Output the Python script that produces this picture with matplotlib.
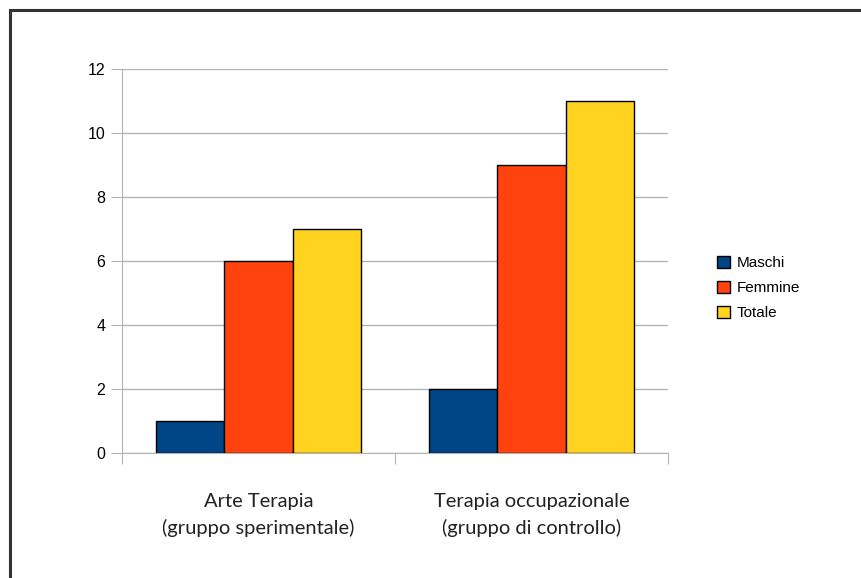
import numpy as np
import matplotlib
matplotlib.use('Agg')
import matplotlib.pyplot as plt
from matplotlib.lines import Line2D

# dati
categorie = ['Arte Terapia\n(gruppo sperimentale)', 'Terapia occupazionale\n(gruppo di controllo)']
maschi = [1, 2]
femmine = [6, 9]
totale = [7, 11]
serie = ['Maschi', 'Femmine', 'Totale']
colori = ['#004586', '#ff420e', '#ffd320']

plt.rcParams['font.family'] = ['Liberation Sans', 'DejaVu Sans']

fig = plt.figure(figsize=(8.61, 5.78), dpi=100)
ax = fig.add_axes([122 / 861, 1 - 453 / 578, 546 / 861, 384 / 578])

x = np.arange(len(categorie))
w = 0.25
for i, (vals, nome, col) in enumerate(zip([maschi, femmine, totale], serie, colori)):
    ax.bar(x + (i - 1) * w, vals, w, color=col, edgecolor='black', linewidth=1,
           label=nome, zorder=3)

ax.set_xlim(-0.5, 1.5)
ax.set_ylim(0, 12)
ax.set_yticks(range(0, 13, 2))
ax.yaxis.grid(True, color='#b3b3b3', linewidth=1, zorder=0)

for s in ['top', 'right']:
    ax.spines[s].set_visible(False)
for s in ['left', 'bottom']:
    ax.spines[s].set_color('#b3b3b3')

ax.set_xticks([-0.5, 0.5, 1.5])
ax.set_xticklabels([])
ax.set_xticks(x, minor=True)
ax.set_xticklabels(categorie, minor=True, fontsize=14.5, color='#222222',
                   family=['Lato', 'DejaVu Sans'], linespacing=1.55)
ax.tick_params(axis='x', which='minor', length=0, pad=29)
ax.tick_params(axis='x', which='major', length=8, color='#b3b3b3')
ax.tick_params(axis='y', length=8, color='#b3b3b3', labelsize=11.5, pad=4)

fig.legend(loc='center left', bbox_to_anchor=(717 / 861, 1 - 288 / 578),
           frameon=False, fontsize=11, handlelength=0.85, handleheight=0.85,
           handletextpad=0.45, labelspacing=0.7, borderpad=0, borderaxespad=0)

# bordo superiore e sinistro
fig.add_artist(Line2D([9.5 / 861, 9.5 / 861], [0, 1 - 9.5 / 578], color='#333333', linewidth=2.2))
fig.add_artist(Line2D([9.5 / 861, 1], [1 - 9.5 / 578, 1 - 9.5 / 578], color='#333333', linewidth=2.2))

fig.savefig('out.png', dpi=100)
